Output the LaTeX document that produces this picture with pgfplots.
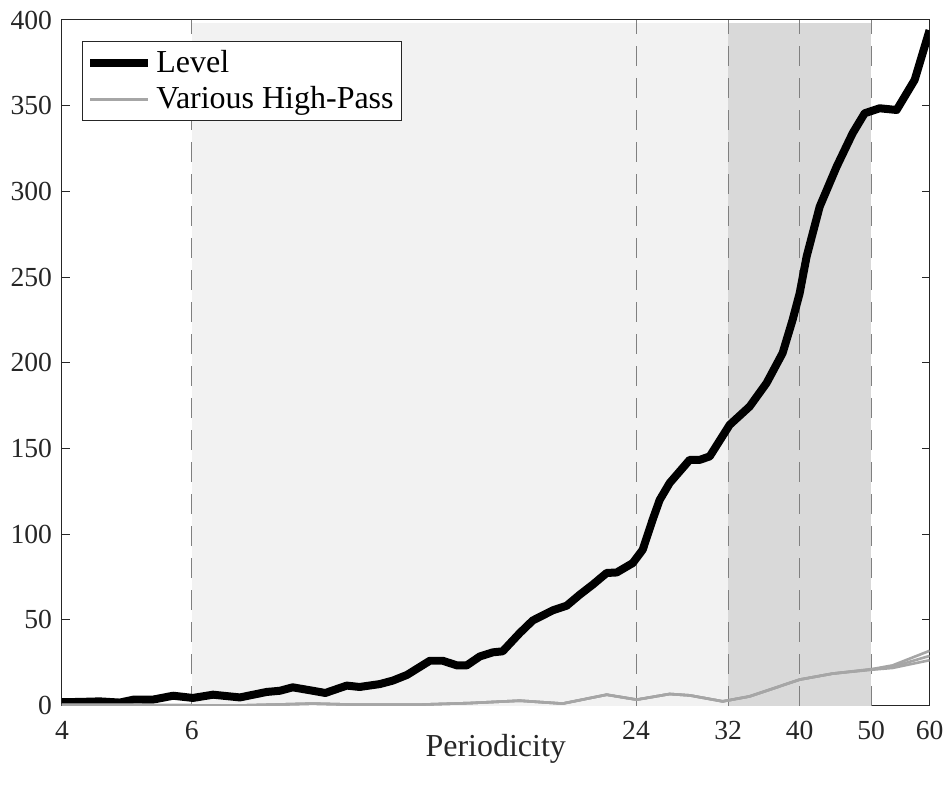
\documentclass[border=0pt]{standalone}
\usepackage{pgfplots}
\pgfplotsset{compat=1.18}
\usepackage{fontspec}
\setmainfont{Liberation Serif}
\definecolor{axgray}{RGB}{38,38,38}
\definecolor{shadelight}{RGB}{242,242,242}
\definecolor{shadedark}{RGB}{217,217,217}
\definecolor{dashgray}{RGB}{128,128,128}
\definecolor{hpgray}{RGB}{166,166,166}
\begin{document}
\begin{tikzpicture}
\begin{axis}[
  scale only axis,
  width=434pt, height=343pt,
  xmode=log,
  xmin=4, xmax=60, ymin=0, ymax=400,
  xtick={4,6,24,32,40,50,60},
  xticklabels={4,6,24,32,40,50,60},
  minor xtick={},
  ytick={0,50,...,400},
  yticklabel style={/pgf/number format/fixed, xshift=-1.5pt},
  /pgf/number format/assume math mode=true,
  tick align=inside,
  major tick length=4pt,
  axis line style={axgray, line width=0.5pt},
  every tick/.style={axgray, line width=0.5pt},
  tick label style={font=\fontsize{13.8}{15}\selectfont, text=axgray},
  xticklabel style={anchor=base, yshift=-17pt},
  xlabel={Periodicity},
  xlabel style={at={(axis description cs:0.5,0)}, anchor=base, yshift=-25.5pt,
    font=\fontsize{16}{18}\selectfont, text=axgray},
  legend style={at={(0,1)}, anchor=north west, xshift=10pt, yshift=-10.5pt,
    draw=axgray, line width=0.5pt, font=\fontsize{16}{18}\selectfont,
    inner xsep=2pt, inner ysep=2.5pt, row sep=1.5pt},
  legend cell align=left,
  legend image code/.code={\draw[#1] (0pt,0pt) -- (29pt,0pt);},
  clip=true,
]
% shaded bands
\addplot[fill=shadelight, draw=none, forget plot] coordinates {(6,0) (6,398) (32,398) (32,0)} -- cycle;
\addplot[fill=shadedark, draw=none, forget plot] coordinates {(32,0) (32,398) (50,398) (50,0)} -- cycle;
% dashed vertical lines
\addplot[dashgray, line width=0.5pt, dash pattern=on 10pt off 6pt, forget plot] coordinates {(6,0) (6,400)};
\addplot[dashgray, line width=0.5pt, dash pattern=on 10pt off 6pt, forget plot] coordinates {(24,0) (24,400)};
\addplot[dashgray, line width=0.5pt, dash pattern=on 10pt off 6pt, forget plot] coordinates {(32,0) (32,400)};
\addplot[dashgray, line width=0.5pt, dash pattern=on 10pt off 6pt, forget plot] coordinates {(40,0) (40,400)};
\addplot[dashgray, line width=0.5pt, dash pattern=on 10pt off 6pt, forget plot] coordinates {(50,0) (50,400)};
% Level
\addplot[black, line width=4pt, line join=round] coordinates {
(4.0,2) (4.25,2.2) (4.5,2.5) (4.79,1.8) (5.0,3.5) (5.31,3.5) (5.66,5.8)
(6.02,4.5) (6.41,6.4) (6.97,4.8) (7.58,8) (7.90,8.7) (8.22,10.7) (8.75,8.7)
(9.1,7.4) (9.73,11.7) (10.13,10.9) (10.79,12.6) (11.23,14.6) (11.74,17.9)
(12.61,26.2) (13.13,26.2) (13.72,23.5) (14.15,23.5) (14.74,28.7) (15.35,31.1)
(15.83,31.7) (16.70,42.4) (17.39,49.7) (18.51,55.6) (19.33,58.3) (20.13,64.7)
(20.97,70.6) (21.90,77.4) (22.60,77.7) (23.76,83.2) (24.51,91) (25.28,108.5)
(25.84,120) (26.66,129.9) (28.38,143.4) (29.28,143.4) (30.21,145.4)
(32.15,163.8) (34.22,174.5) (36.08,188.2) (37.93,205.7) (39.13,225)
(40.0,240.6) (40.88,262) (42.58,291.1) (44.90,314.5) (47.19,333.9)
(49.0,345.6) (51.34,348.5) (54.14,347.5) (57.27,365) (60,394)
};
\addlegendentry{Level}
% Various High-Pass
\addplot[hpgray, line width=1.3pt] coordinates {
(4,0.5) (5.66,0.3) (6.82,0) (8.75,1.2) (9.92,0.6) (12.22,0.6) (14.29,1.5)
(16.70,2.9) (19.09,1.2) (21.90,6.4) (24.05,3.5) (26.66,6.8) (28.38,6)
(31.46,2.5) (34.22,5.4) (40,15.2) (44.33,18.7) (50.23,21) (53.46,22) (60,26.5)
};
\addlegendentry{Various High-Pass}
\addplot[hpgray, line width=1.3pt, forget plot] coordinates {
(4,0.5) (5.66,0.3) (6.82,0) (8.75,1.2) (9.92,0.6) (12.22,0.6) (14.29,1.5)
(16.70,2.9) (19.09,1.2) (21.90,6.4) (24.05,3.5) (26.66,6.8) (28.38,6)
(31.46,2.5) (34.22,5.4) (40,15.2) (44.33,18.7) (50.23,21.2) (53.46,22.7) (60,29)
};
\addplot[hpgray, line width=1.3pt, forget plot] coordinates {
(4,0.5) (5.66,0.3) (6.82,0) (8.75,1.2) (9.92,0.6) (12.22,0.6) (14.29,1.5)
(16.70,2.9) (19.09,1.2) (21.90,6.4) (24.05,3.5) (26.66,6.8) (28.38,6)
(31.46,2.5) (34.22,5.4) (40,15.2) (44.33,18.7) (50.23,21.4) (53.46,23.5) (60,32)
};
\end{axis}
\path ([shift={(-31pt,-41.5pt)}]current axis.south west) rectangle ([shift={(10pt,10pt)}]current axis.north east);
\end{tikzpicture}
\end{document}
